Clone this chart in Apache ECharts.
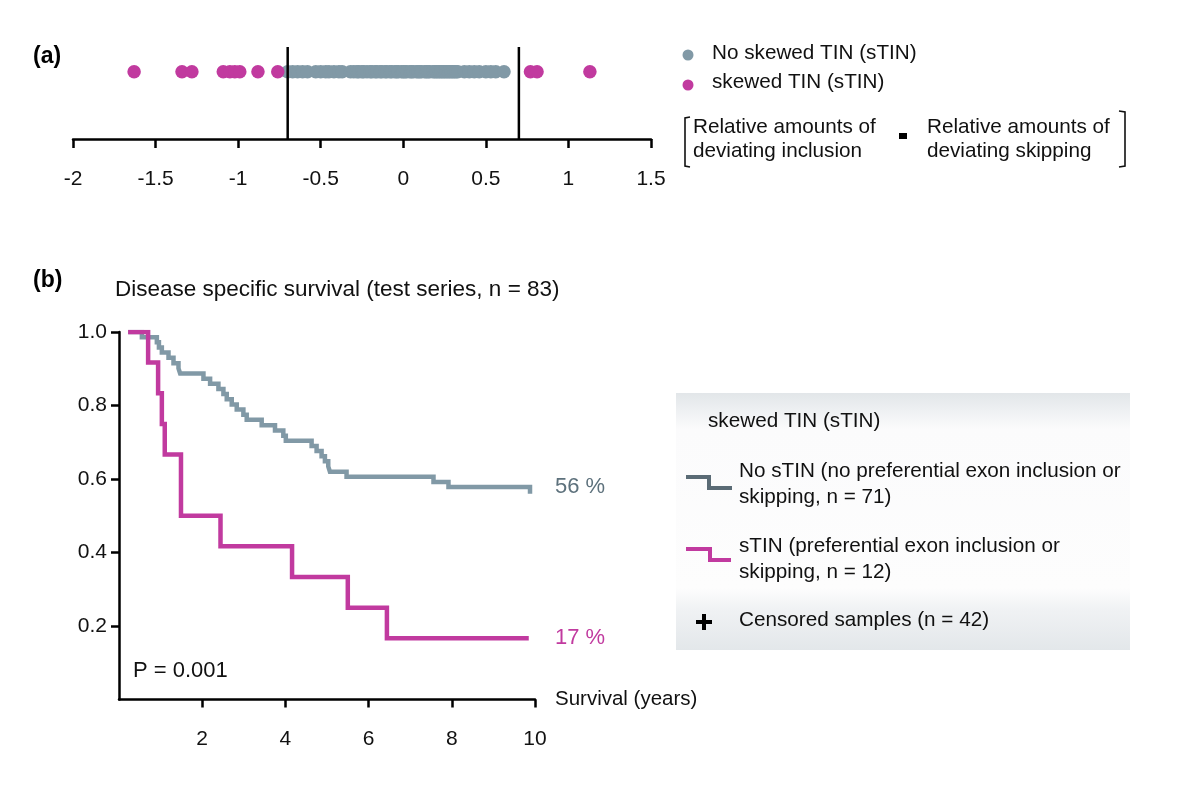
<!DOCTYPE html>
<html>
<head>
<meta charset="utf-8">
<script src="https://cdn.jsdelivr.net/npm/echarts@6/dist/echarts.min.js"></script>
<style>
html,body{margin:0;padding:0;background:#fff;}
#chart{width:1200px;height:796px;}
</style>
</head>
<body>
<div id="chart"></div>
<script>
// ---------- DATA ----------
// Panel (a): TIN difference values
var noSkewedValues = [
  -0.70,-0.67,-0.64,-0.61,-0.58,
  -0.53,-0.50,-0.47,-0.45,-0.42,-0.39,-0.37,
  -0.32,-0.30,-0.28,-0.27,-0.25,-0.24,-0.22,-0.20,-0.19,-0.17,
  -0.16,-0.14,-0.13,-0.11,-0.10,-0.08,-0.07,-0.05,-0.04,-0.03,
  -0.01,0.00,0.01,0.02,0.04,0.05,0.06,0.08,0.09,0.10,
  0.11,0.13,0.14,0.15,0.16,0.18,0.19,0.20,0.21,0.22,
  0.23,0.24,0.25,0.26,0.27,0.28,0.29,0.30,0.31,0.32,0.33,
  0.37,0.40,0.43,0.46,0.50,0.53,0.56,
  0.61
];
var skewedValues = [-1.63,-1.34,-1.28,-1.09,-1.05,-1.02,-0.99,-0.88,-0.76,0.77,0.81,1.13];
var thresholds = [-0.7, 0.7];
var dotRowLevel = 0.68;
var thresholdTop = 0.93;

// Panel (b): Kaplan-Meier steps (time in years, survival after event)
var kmStart = 0.22;
var noSTINTimes = [0.55,0.91,0.96,1.03,1.19,1.31,1.43,1.47,2.03,2.19,2.39,2.51,2.59,2.71,2.83,2.99,3.07,3.43,3.75,3.95,4.01,4.63,4.75,4.87,4.95,5.03,5.07,5.47,7.56,7.92,9.88];
var noSTINSurv  = [0.986,0.972,0.958,0.944,0.930,0.915,0.901,0.887,0.873,0.859,0.845,0.831,0.817,0.803,0.789,0.775,0.761,0.746,0.732,0.718,0.704,0.690,0.676,0.662,0.648,0.634,0.620,0.606,0.592,0.578,0.560];
var sTINTimes = [0.70,0.94,1.03,1.10,1.49,2.44,4.16,5.50,6.44];
var sTINSurv  = [0.917,0.833,0.750,0.667,0.500,0.417,0.333,0.250,0.167];
var sTINEnd = 9.85;
var noSTINLabel = '56 %';
var sTINLabel = '17 %';

// ---------- helpers ----------
function stepData(start, times, surv, endT) {
  var d = [[start, 1.0]];
  var prev = 1.0;
  for (var i = 0; i < times.length; i++) {
    d.push([times[i], prev]);
    d.push([times[i], surv[i]]);
    prev = surv[i];
  }
  if (endT != null) d.push([endT, prev]);
  return d;
}

var FONT = "'Liberation Sans', Arial, Helvetica, sans-serif";
var GRAY = '#8199a6';
var MAG = '#c13a9f';
var GRAYDARK = '#5a6b75';

var chart = echarts.init(document.getElementById('chart'));

var thresholdSeries = thresholds.map(function (t) {
  return {
    type: 'line', xAxisIndex: 0, yAxisIndex: 0,
    data: [[t, 0], [t, thresholdTop]],
    symbol: 'none', silent: true,
    lineStyle: { color: '#000', width: 2.5 }, z: 5
  };
});

var option = {
  animation: false,
  backgroundColor: '#fff',
  textStyle: { fontFamily: FONT },
  grid: [
    { left: 73, top: 40, width: 578, height: 99 },
    { left: 119, top: 332, width: 416, height: 367.5 }
  ],
  xAxis: [
    {
      gridIndex: 0, type: 'value', min: -2, max: 1.5, interval: 0.5,
      axisLine: { show: true, onZero: false, lineStyle: { color: '#000', width: 2.5 } },
      axisTick: { show: true, length: 9, lineStyle: { color: '#000', width: 2.5 } },
      axisLabel: { fontSize: 21, color: '#111', margin: 30, fontFamily: FONT,
        formatter: function (v) { return String(v); } },
      splitLine: { show: false }
    },
    {
      gridIndex: 1, type: 'value', min: 0, max: 10, interval: 2,
      axisLine: { show: true, onZero: false, lineStyle: { color: '#000', width: 2.5 } },
      axisTick: { show: true, length: 8, lineStyle: { color: '#000', width: 2.5 } },
      axisLabel: { fontSize: 21, color: '#111', margin: 29, showMinLabel: false, fontFamily: FONT },
      splitLine: { show: false },
      name: 'Survival (years)', nameLocation: 'end', nameGap: 20,
      nameTextStyle: { fontSize: 20.5, color: '#111', fontFamily: FONT, verticalAlign: 'middle' }
    }
  ],
  yAxis: [
    { gridIndex: 0, type: 'value', min: 0, max: 1, show: false },
    {
      gridIndex: 1, type: 'value', min: 0, max: 1, interval: 0.2,
      axisLine: { show: true, lineStyle: { color: '#000', width: 2.5 } },
      axisTick: { show: true, length: 8, lineStyle: { color: '#000', width: 2.5 } },
      axisLabel: { fontSize: 21, color: '#111', margin: 12, showMinLabel: false, fontFamily: FONT,
        formatter: function (v) { return v.toFixed(1); } },
      splitLine: { show: false }
    }
  ],
  series: [
    {
      type: 'scatter', xAxisIndex: 0, yAxisIndex: 0, name: 'No skewed TIN (sTIN)',
      data: noSkewedValues.map(function (v) { return [v, dotRowLevel]; }),
      symbol: 'circle', symbolSize: 13.5,
      itemStyle: { color: GRAY, opacity: 1 }, z: 3
    },
    {
      type: 'scatter', xAxisIndex: 0, yAxisIndex: 0, name: 'skewed TIN (sTIN)',
      data: skewedValues.map(function (v) { return [v, dotRowLevel]; }),
      symbol: 'circle', symbolSize: 13.5,
      itemStyle: { color: MAG, opacity: 1 }, z: 4
    }
  ].concat(thresholdSeries).concat([
    {
      type: 'line', xAxisIndex: 1, yAxisIndex: 1, name: 'No sTIN',
      data: stepData(kmStart, noSTINTimes, noSTINSurv, null),
      symbol: 'none', lineStyle: { color: GRAY, width: 4.5, join: 'miter', cap: 'butt' }, z: 3
    },
    {
      type: 'line', xAxisIndex: 1, yAxisIndex: 1, name: 'sTIN',
      data: stepData(kmStart, sTINTimes, sTINSurv, sTINEnd),
      symbol: 'none', lineStyle: { color: MAG, width: 4.5, join: 'miter', cap: 'butt' }, z: 4
    }
  ]),
  graphic: [
    { type: 'text', left: 33, top: 45, style: { text: '(a)', font: 'bold 23px ' + FONT, fill: '#000' } },
    { type: 'text', left: 33, top: 269, style: { text: '(b)', font: 'bold 23px ' + FONT, fill: '#000' } },
    { type: 'text', left: 115, top: 278, style: { text: 'Disease specific survival (test series, n = 83)', font: '22.5px ' + FONT, fill: '#111' } },
    { type: 'text', left: 133, top: 660, style: { text: 'P = 0.001', font: '22px ' + FONT, fill: '#111' } },
    { type: 'text', left: 555, top: 476, style: { text: noSTINLabel, font: '22px ' + FONT, fill: '#5d717c' } },
    { type: 'text', left: 555, top: 627, style: { text: sTINLabel, font: '22px ' + FONT, fill: MAG } },

    // Panel (a) legend
    { type: 'circle', shape: { cx: 688, cy: 55, r: 5.5 }, style: { fill: GRAY } },
    { type: 'text', left: 712, top: 43, style: { text: 'No skewed TIN (sTIN)', font: '20.7px ' + FONT, fill: '#111' } },
    { type: 'circle', shape: { cx: 688, cy: 85, r: 5.5 }, style: { fill: MAG } },
    { type: 'text', left: 712, top: 72, style: { text: 'skewed TIN (sTIN)', font: '20.7px ' + FONT, fill: '#111' } },
    { type: 'polyline', shape: { points: [[690, 117], [685, 118], [685, 166], [690, 167]] }, style: { stroke: '#111', lineWidth: 1.6, fill: null } },
    { type: 'text', left: 693, top: 117, style: { text: 'Relative amounts of', font: '20.7px ' + FONT, fill: '#111' } },
    { type: 'text', left: 693, top: 141, style: { text: 'deviating inclusion', font: '20.7px ' + FONT, fill: '#111' } },
    { type: 'rect', shape: { x: 899, y: 133, width: 8, height: 6 }, style: { fill: '#000' } },
    { type: 'text', left: 927, top: 117, style: { text: 'Relative amounts of', font: '20.7px ' + FONT, fill: '#111' } },
    { type: 'text', left: 927, top: 141, style: { text: 'deviating skipping', font: '20.7px ' + FONT, fill: '#111' } },
    { type: 'polyline', shape: { points: [[1119, 111], [1125, 112], [1125, 166], [1119, 167]] }, style: { stroke: '#111', lineWidth: 1.6, fill: null } },

    // Panel (b) legend box
    { type: 'rect', z: 0, shape: { x: 676, y: 393, width: 454, height: 257 },
      style: { fill: new echarts.graphic.LinearGradient(0, 0, 0, 1, [
        { offset: 0, color: '#e2e6e9' },
        { offset: 0.14, color: '#fbfbfc' },
        { offset: 0.76, color: '#fdfdfd' },
        { offset: 0.84, color: '#f0f2f4' },
        { offset: 1, color: '#e3e7ea' }
      ]) } },
    { type: 'text', z: 2, left: 708, top: 411, style: { text: 'skewed TIN (sTIN)', font: '20.7px ' + FONT, fill: '#111' } },
    { type: 'polyline', z: 2, shape: { points: [[686, 477], [709, 477], [709, 488], [732, 488]] }, style: { stroke: GRAYDARK, lineWidth: 4, fill: null, lineJoin: 'miter' } },
    { type: 'text', z: 2, left: 739, top: 461, style: { text: 'No sTIN (no preferential exon inclusion or', font: '20.7px ' + FONT, fill: '#111' } },
    { type: 'text', z: 2, left: 739, top: 487, style: { text: 'skipping, n = 71)', font: '20.7px ' + FONT, fill: '#111' } },
    { type: 'polyline', z: 2, shape: { points: [[686, 549], [710, 549], [710, 560], [731, 560]] }, style: { stroke: MAG, lineWidth: 4, fill: null, lineJoin: 'miter' } },
    { type: 'text', z: 2, left: 739, top: 536, style: { text: 'sTIN (preferential exon inclusion or', font: '20.7px ' + FONT, fill: '#111' } },
    { type: 'text', z: 2, left: 739, top: 562, style: { text: 'skipping, n = 12)', font: '20.7px ' + FONT, fill: '#111' } },
    { type: 'rect', z: 2, shape: { x: 696, y: 620, width: 16, height: 4 }, style: { fill: '#000' } },
    { type: 'rect', z: 2, shape: { x: 702, y: 614, width: 4, height: 16 }, style: { fill: '#000' } },
    { type: 'text', z: 2, left: 739, top: 610, style: { text: 'Censored samples (n = 42)', font: '20.7px ' + FONT, fill: '#111' } }
  ]
};
chart.setOption(option);
</script>
</body>
</html>
